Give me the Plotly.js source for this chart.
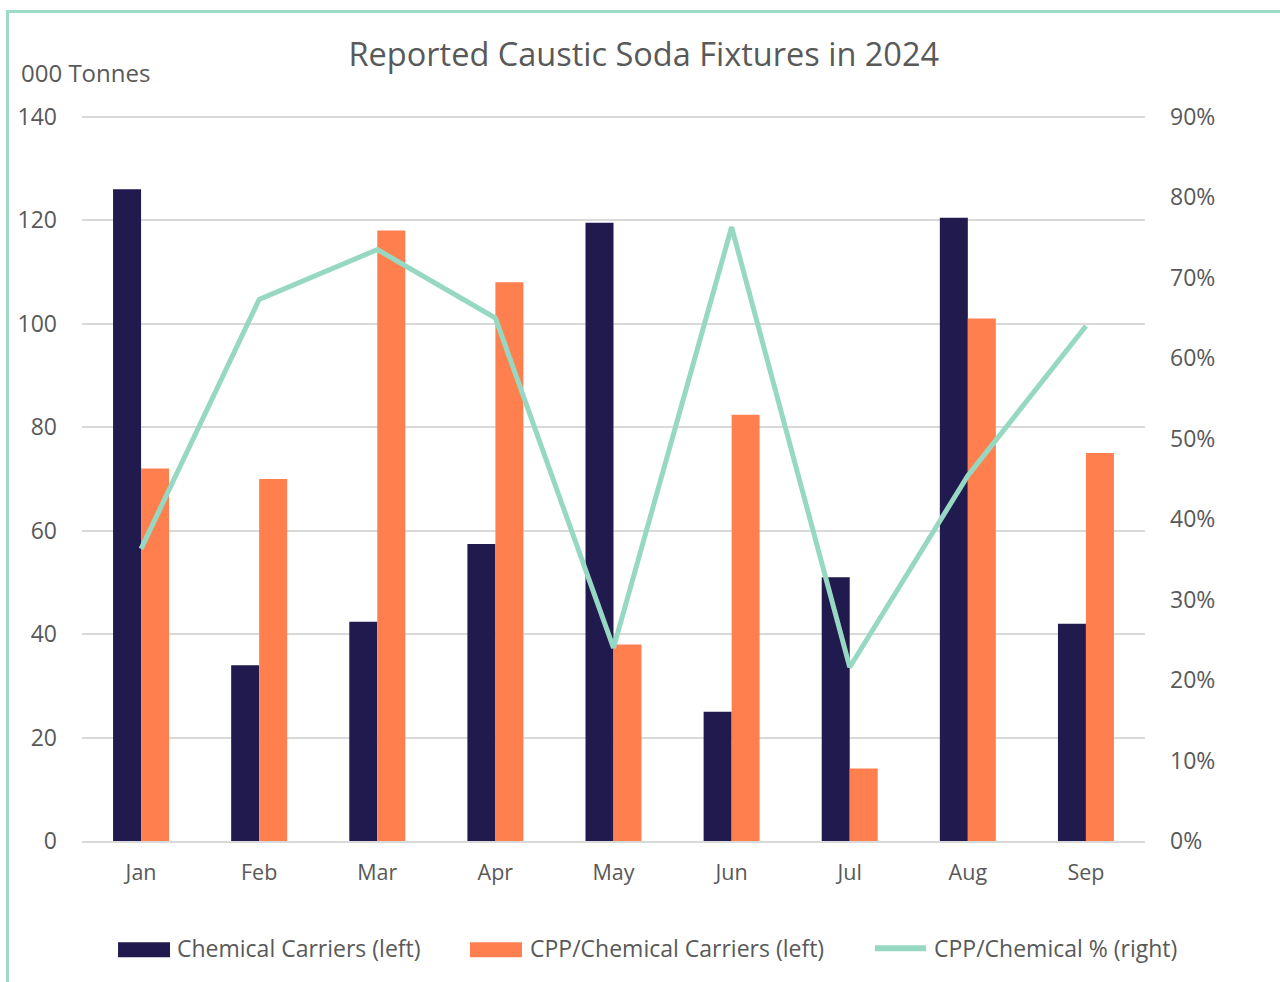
<!DOCTYPE html>
<html><head><meta charset="utf-8">
<script src="https://cdn.plot.ly/plotly-3.0.1.min.js"></script>
<style>
html,body{margin:0;padding:0;background:#fff;}
#frame{position:absolute;left:6px;top:10px;width:1300px;height:1000px;border-left:3px solid #9fdcc8;border-top:3px solid #9fdcc8;}
#chart{position:absolute;left:0;top:0;width:1280px;height:982px;}
</style></head>
<body>
<div id="frame"></div>
<div id="chart"></div>
<script>
const months = ["Jan","Feb","Mar","Apr","May","Jun","Jul","Aug","Sep"];
const chemicalCarriers = [126, 34, 42.4, 57.4, 119.5, 25, 51, 120.5, 42];
const cppChemicalCarriers = [72, 70, 118, 108, 38, 82.4, 14, 101, 75];
const cppChemicalPct = [0.363, 0.673, 0.735, 0.650, 0.240, 0.763, 0.216, 0.454, 0.640];
const leftTicks = [0,20,40,60,80,100,120,140];
const rightTicks = [0,0.1,0.2,0.3,0.4,0.5,0.6,0.7,0.8,0.9];
const seriesNames = ["Chemical Carriers (left)", "CPP/Chemical Carriers (left)", "CPP/Chemical % (right)"];
const seriesColors = ["#211a4f", "#ff7f4f", "#96d8c2"];

const FONT = "Open Sans, sans-serif";
const GREY = "#595959";

const traces = [
  {type:"bar", name:seriesNames[0], x:months, y:chemicalCarriers,
   marker:{color:seriesColors[0]}, yaxis:"y"},
  {type:"bar", name:seriesNames[1], x:months, y:cppChemicalCarriers,
   marker:{color:seriesColors[1]}, yaxis:"y"},
  {type:"scatter", mode:"lines", name:seriesNames[2], x:months, y:cppChemicalPct,
   line:{color:seriesColors[2], width:5}, yaxis:"y2"}
];

// custom legend (paper coords)
const LY = -0.1478;
const shapes = [
  {type:"rect", xref:"paper", yref:"paper", x0:0.0339, x1:0.0828, y0:-0.1602, y1:-0.1395,
   fillcolor:seriesColors[0], line:{width:0}},
  {type:"rect", xref:"paper", yref:"paper", x0:0.365, x1:0.4139, y0:-0.1602, y1:-0.1395,
   fillcolor:seriesColors[1], line:{width:0}},
  {type:"line", xref:"paper", yref:"paper", x0:0.7460, x1:0.7940, y0:LY, y1:LY,
   line:{color:seriesColors[2], width:6}}
];
const legendText = [
  {text:seriesNames[0], x:0.0875},
  {text:seriesNames[1], x:0.4196},
  {text:seriesNames[2], x:0.7996}
].map(o => ({text:o.text, xref:"paper", yref:"paper", x:o.x, y:LY, xanchor:"left", yanchor:"middle",
  showarrow:false, font:{size:23, color:GREY, family:FONT}}));

const layout = {
  width:1280, height:982,
  paper_bgcolor:"rgba(0,0,0,0)", plot_bgcolor:"rgba(0,0,0,0)",
  margin:{l:82, r:135, t:115, b:141},
  font:{family:FONT, color:GREY},
  title:{text:"Reported Caustic Soda Fixtures in 2024", font:{size:32.5, color:GREY, family:FONT},
         x:0.503, xanchor:"center", y:0.944, yanchor:"middle"},
  barmode:"group", bargap:0.526, bargroupgap:0,
  showlegend:false,
  xaxis:{type:"category", tickfont:{size:21.5, color:GREY}, ticks:"", showgrid:false,
         showline:true, linecolor:"#d9d9d9", linewidth:2, ticklabelstandoff:11},
  yaxis:{range:[0,140.35], tickvals:leftTicks, tickfont:{size:23, color:GREY},
         showgrid:true, gridcolor:"#d9d9d9", gridwidth:2, zeroline:false,
         showline:false, ticks:"", ticklabelstandoff:24},
  yaxis2:{range:[0,0.90225], tickvals:rightTicks, tickformat:".0%", overlaying:"y", side:"right",
          tickfont:{size:23, color:GREY}, showgrid:false, zeroline:false, showline:false,
          ticks:"", ticklabelstandoff:24},
  shapes: shapes,
  annotations:[
    {text:"000 Tonnes", xref:"paper", yref:"paper", x:-0.059, y:1.058, xanchor:"left", yanchor:"middle",
     showarrow:false, font:{size:24, color:GREY, family:FONT}}
  ].concat(legendText)
};

Plotly.newPlot("chart", traces, layout, {displayModeBar:false, staticPlot:true});
</script>
</body></html>
